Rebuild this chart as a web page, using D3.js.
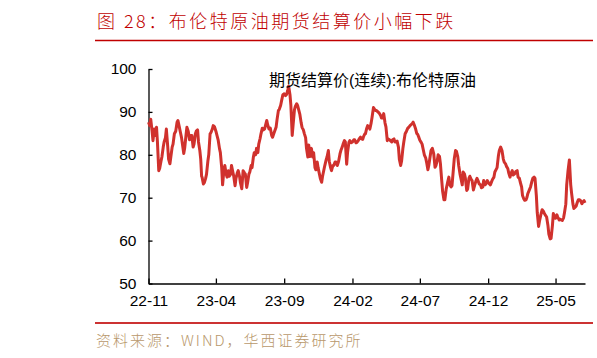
<!DOCTYPE html>
<html>
<head>
<meta charset="utf-8">
<script src="https://cdn.jsdelivr.net/npm/d3@7"></script>
<style>
  html, body { margin: 0; padding: 0; background: #fff; }
  svg { display: block; }
</style>
</head>
<body>
<svg id="chart" width="597" height="358"></svg>
<script>
const titleText = "图 28：布伦特原油期货结算价小幅下跌";
const sourceText = "资料来源：WIND，华西证券研究所";
const seriesName = "期货结算价(连续):布伦特原油";

const dates = [
  "2022-11-01","2022-11-04","2022-11-06","2022-11-09","2022-11-11","2022-11-14","2022-11-16","2022-11-19","2022-11-21","2022-11-24","2022-11-26","2022-11-29",
  "2022-12-01","2022-12-04","2022-12-06","2022-12-09","2022-12-11","2022-12-14","2022-12-16","2022-12-19","2022-12-21","2022-12-24","2022-12-26","2022-12-29",
  "2023-01-01","2023-01-04","2023-01-06","2023-01-09","2023-01-11","2023-01-14","2023-01-16","2023-01-19","2023-01-21","2023-01-24","2023-01-26","2023-01-29",
  "2023-02-01","2023-02-04","2023-02-06","2023-02-09","2023-02-11","2023-02-14","2023-02-16","2023-02-19","2023-02-21","2023-02-24","2023-02-26","2023-02-28",
  "2023-03-01","2023-03-04","2023-03-06","2023-03-09","2023-03-11","2023-03-14","2023-03-16","2023-03-19","2023-03-21","2023-03-24","2023-03-26","2023-03-29",
  "2023-04-01","2023-04-04","2023-04-06","2023-04-09","2023-04-11","2023-04-14","2023-04-16","2023-04-19","2023-04-21","2023-04-24","2023-04-26","2023-04-29",
  "2023-05-01","2023-05-04","2023-05-06","2023-05-09","2023-05-11","2023-05-14","2023-05-16","2023-05-19","2023-05-21","2023-05-24","2023-05-26","2023-05-29",
  "2023-06-01","2023-06-04","2023-06-06","2023-06-09","2023-06-11","2023-06-14","2023-06-16","2023-06-19","2023-06-21","2023-06-24","2023-06-26","2023-06-29",
  "2023-07-01","2023-07-04","2023-07-06","2023-07-09","2023-07-11","2023-07-14","2023-07-16","2023-07-19","2023-07-21","2023-07-24","2023-07-26","2023-07-29",
  "2023-08-01","2023-08-04","2023-08-06","2023-08-09","2023-08-11","2023-08-14","2023-08-16","2023-08-19","2023-08-21","2023-08-24","2023-08-26","2023-08-29",
  "2023-09-01","2023-09-04","2023-09-06","2023-09-09","2023-09-11","2023-09-14","2023-09-16","2023-09-19","2023-09-21","2023-09-24","2023-09-26","2023-09-29",
  "2023-10-01","2023-10-04","2023-10-06","2023-10-09","2023-10-11","2023-10-14","2023-10-16","2023-10-19","2023-10-21","2023-10-24","2023-10-26","2023-10-29",
  "2023-11-01","2023-11-04","2023-11-06","2023-11-09","2023-11-11","2023-11-14","2023-11-16","2023-11-19","2023-11-21","2023-11-24","2023-11-26","2023-11-29",
  "2023-12-01","2023-12-04","2023-12-06","2023-12-09","2023-12-11","2023-12-14","2023-12-16","2023-12-19","2023-12-21","2023-12-24","2023-12-26","2023-12-29",
  "2024-01-01","2024-01-04","2024-01-06","2024-01-09","2024-01-11","2024-01-14","2024-01-16","2024-01-19","2024-01-21","2024-01-24","2024-01-26","2024-01-29",
  "2024-02-01","2024-02-04","2024-02-06","2024-02-09","2024-02-11","2024-02-14","2024-02-16","2024-02-19","2024-02-21","2024-02-24","2024-02-26","2024-02-29",
  "2024-03-01","2024-03-04","2024-03-06","2024-03-09","2024-03-11","2024-03-14","2024-03-16","2024-03-19","2024-03-21","2024-03-24","2024-03-26","2024-03-29",
  "2024-04-01","2024-04-04","2024-04-06","2024-04-09","2024-04-11","2024-04-14","2024-04-16","2024-04-19","2024-04-21","2024-04-24","2024-04-26","2024-04-29",
  "2024-05-01","2024-05-04","2024-05-06","2024-05-09","2024-05-11","2024-05-14","2024-05-16","2024-05-19","2024-05-21","2024-05-24","2024-05-26","2024-05-29",
  "2024-06-01","2024-06-04","2024-06-06","2024-06-09","2024-06-11","2024-06-14","2024-06-16","2024-06-19","2024-06-21","2024-06-24","2024-06-26","2024-06-29",
  "2024-07-01","2024-07-04","2024-07-06","2024-07-09","2024-07-11","2024-07-14","2024-07-16","2024-07-19","2024-07-21","2024-07-24","2024-07-26","2024-07-29",
  "2024-08-01","2024-08-04","2024-08-06","2024-08-09","2024-08-11","2024-08-14","2024-08-16","2024-08-19","2024-08-21","2024-08-24","2024-08-26","2024-08-29",
  "2024-09-01","2024-09-04","2024-09-06","2024-09-09","2024-09-11","2024-09-14","2024-09-16","2024-09-19","2024-09-21","2024-09-24","2024-09-26","2024-09-29",
  "2024-10-01","2024-10-04","2024-10-06","2024-10-09","2024-10-11","2024-10-14","2024-10-16","2024-10-19","2024-10-21","2024-10-24","2024-10-26","2024-10-29",
  "2024-11-01","2024-11-04","2024-11-06","2024-11-09","2024-11-11","2024-11-14","2024-11-16","2024-11-19","2024-11-21","2024-11-24","2024-11-26","2024-11-29",
  "2024-12-01","2024-12-04","2024-12-06","2024-12-09","2024-12-11","2024-12-14","2024-12-16","2024-12-19","2024-12-21","2024-12-24","2024-12-26","2024-12-29",
  "2025-01-01","2025-01-04","2025-01-06","2025-01-09","2025-01-11","2025-01-14","2025-01-16","2025-01-19","2025-01-21","2025-01-24","2025-01-26","2025-01-29",
  "2025-02-01","2025-02-04","2025-02-06","2025-02-09","2025-02-11","2025-02-14","2025-02-16","2025-02-19","2025-02-21","2025-02-24","2025-02-26","2025-02-28",
  "2025-03-01","2025-03-04","2025-03-06","2025-03-09","2025-03-11","2025-03-14","2025-03-16","2025-03-19","2025-03-21","2025-03-24","2025-03-26","2025-03-29",
  "2025-04-01","2025-04-04","2025-04-06","2025-04-09","2025-04-11","2025-04-14","2025-04-16","2025-04-19","2025-04-21","2025-04-24","2025-04-26","2025-04-29",
  "2025-05-01","2025-05-04","2025-05-06","2025-05-09","2025-05-11","2025-05-14","2025-05-16","2025-05-19","2025-05-21","2025-05-24","2025-05-26","2025-05-29",
  "2025-06-01","2025-06-04","2025-06-06","2025-06-09","2025-06-11","2025-06-14","2025-06-16","2025-06-19","2025-06-21","2025-06-24","2025-06-26","2025-06-29",
  "2025-07-01","2025-07-04","2025-07-06"
];

const brent = [
  87.6, 86.8, 88.3, 85.5, 83.3, 86.0, 84.5, 86.4, 83.0, 76.3, 76.8, 78.5,
  79.5, 81.8, 83.0, 84.0, 86.0, 82.0, 79.0, 77.9, 79.5, 81.8, 82.5, 84.9,
  85.5, 87.6, 88.0, 86.5, 85.5, 84.0, 82.5, 80.3, 81.5, 84.5, 86.4, 85.5,
  83.5, 84.5, 84.5, 81.8, 82.5, 84.9, 85.5, 85.8, 83.0, 81.0, 79.0, 75.0,
  74.8, 73.2, 73.5, 74.5, 75.5, 78.5, 80.0, 84.9, 85.2, 86.0, 86.8, 86.5,
  85.5, 84.3, 83.5, 81.5, 80.5, 77.0, 73.0, 76.5, 77.5, 75.5, 74.8, 76.3,
  75.0, 75.5, 77.5, 76.0, 75.0, 72.8, 74.5, 75.8, 76.3, 75.0, 73.5, 72.1,
  76.3, 75.8, 75.5, 72.4, 73.5, 75.5, 76.0, 77.5, 77.0, 79.5, 80.5, 80.0,
  81.5, 80.5, 82.5, 83.8, 84.9, 86.2, 85.8, 86.0, 86.8, 88.0, 87.0, 86.0,
  86.2, 84.5, 84.1, 85.0, 85.6, 86.5, 88.2, 90.3, 90.6, 91.5, 92.5, 94.0,
  94.2, 93.8, 94.0, 95.0, 96.0, 94.0, 91.5, 84.5, 87.0, 90.5, 91.3, 91.9,
  91.5, 90.3, 89.5, 87.5, 86.4, 85.8, 85.0, 84.0, 81.5, 79.5, 82.3, 79.6,
  81.5, 79.5, 80.5, 77.0, 76.5, 78.3, 77.0, 75.5, 74.5, 73.6, 75.0, 76.5,
  77.5, 78.8, 79.5, 81.0, 78.5, 77.0, 76.3, 77.5, 77.5, 78.3, 78.3, 77.5,
  78.5, 80.2, 81.0, 81.8, 82.5, 83.3, 83.0, 77.8, 80.5, 82.9, 83.3, 82.8,
  83.0, 83.5, 83.5, 82.8, 82.9, 83.3, 83.7, 84.1, 83.7, 83.6, 84.3, 84.9,
  84.9, 86.2, 86.8, 86.4, 86.0, 87.5, 88.8, 91.0, 90.7, 90.3, 90.3, 90.0,
  89.7, 89.2, 88.6, 88.6, 89.6, 87.4, 86.5, 83.3, 83.7, 83.5, 83.3, 83.0,
  83.5, 83.7, 83.0, 83.0, 83.2, 81.8, 79.0, 77.5, 78.5, 81.5, 83.0, 84.9,
  85.5, 86.2, 86.4, 86.8, 87.0, 87.3, 87.6, 86.8, 86.2, 85.0, 84.8, 84.0,
  83.4, 82.9, 82.5, 81.0, 80.0, 79.3, 78.3, 76.5, 77.5, 79.6, 81.0, 81.5,
  80.3, 77.1, 77.5, 78.7, 80.0, 79.6, 78.0, 74.0, 71.5, 69.5, 69.5, 72.0,
  73.5, 74.8, 73.0, 72.5, 72.8, 76.5, 79.0, 81.0, 80.8, 79.5, 77.5, 75.5,
  74.5, 73.0, 76.0, 75.5, 74.5, 71.7, 72.0, 74.5, 75.0, 74.3, 74.0, 71.8,
  73.0, 74.0, 74.5, 73.8, 73.2, 73.0, 72.3, 72.5, 74.0, 73.0, 73.2, 74.0,
  73.6, 73.2, 73.0, 73.8, 74.3, 74.8, 76.0, 76.6, 77.0, 79.8, 81.0, 81.8,
  81.0, 79.0, 78.3, 77.9, 77.3, 76.8, 75.8, 74.8, 75.6, 76.3, 75.3, 75.5,
  76.1, 76.3, 74.8, 74.5, 73.6, 72.5, 70.5, 69.7, 69.4, 69.5, 70.1, 71.0,
  71.2, 72.0, 72.5, 73.8, 74.5, 74.8, 74.5, 70.5, 66.5, 63.3, 64.5, 66.0,
  67.2, 66.8, 66.3, 65.8, 65.5, 63.5, 61.5, 60.4, 60.5, 63.5, 66.3, 65.5,
  65.2, 66.0, 65.5, 64.8, 65.0, 64.8, 64.7, 65.3, 66.5, 68.5, 73.0, 76.3,
  78.8, 73.0, 71.0, 68.5, 67.5, 67.8, 68.0, 69.0, 69.5, 69.5, 69.3, 68.6,
  69.0, 69.3, 68.8
];

const yTicks = [50, 60, 70, 80, 90, 100];
const xTickDates = ["2022-11-01","2023-04-01","2023-09-01","2024-02-01","2024-07-01","2024-12-01","2025-05-01"];
const xTickLabels = ["22-11","23-04","23-09","24-02","24-07","24-12","25-05"];

const parse = d3.timeParse("%Y-%m-%d");
const data = dates.map((d, i) => ({ date: parse(d), value: brent[i] }));

const svg = d3.select("#chart");
const RED = "#c00000";
const LINE = "#d0312d";

// Title
svg.append("text")
  .attr("x", 97).attr("y", 28)
  .attr("font-family", "'Noto Sans CJK SC', sans-serif")
  .attr("font-size", 18)
  .attr("font-weight", 300)
  .attr("letter-spacing", 2.5)
  .attr("fill", RED)
  .text(titleText);

svg.append("line")
  .attr("x1", 95).attr("x2", 593).attr("y1", 40.5).attr("y2", 40.5)
  .attr("stroke", RED).attr("stroke-width", 1.5);

// Scales
const x = d3.scaleTime()
  .domain([parse("2022-11-01"), parse("2025-07-06")])
  .range([148.5, 585]);
const y = d3.scaleLinear().domain([50, 100]).range([283.5, 69]);

const fontAxis = "'Liberation Sans', Arial, sans-serif";

const gy = svg.append("g")
  .attr("transform", "translate(148.5,0)")
  .call(d3.axisLeft(y).tickValues(yTicks).tickSizeInner(-4).tickSizeOuter(0).tickPadding(12));
gy.selectAll("text").attr("font-family", fontAxis).attr("font-size", 15.5).attr("fill", "#000");

const gx = svg.append("g")
  .attr("transform", "translate(0,283.5)")
  .call(d3.axisBottom(x).tickValues(xTickDates.map(parse)).tickSizeInner(-5).tickSizeOuter(0).tickPadding(11.5)
    .tickFormat((d, i) => xTickLabels[i]));
gx.selectAll("text").attr("font-family", fontAxis).attr("font-size", 15.5).attr("fill", "#000");

svg.selectAll(".domain, .tick line").attr("stroke", "#000").attr("stroke-width", 1.3);

// Line
const line = d3.line().x(d => x(d.date)).y(d => y(d.value));
svg.append("path")
  .datum(data)
  .attr("d", line)
  .attr("fill", "none")
  .attr("stroke", LINE)
  .attr("stroke-width", 3)
  .attr("stroke-linejoin", "round");

// Legend label
svg.append("text")
  .attr("x", 269).attr("y", 86)
  .attr("font-family", "'Liberation Sans', 'Noto Sans CJK SC', sans-serif")
  .attr("font-size", 16)
  .attr("fill", "#000")
  .text(seriesName);

// Bottom rule + source
svg.append("line")
  .attr("x1", 95).attr("x2", 593).attr("y1", 323).attr("y2", 323)
  .attr("stroke", "#cc3333").attr("stroke-width", 2);

svg.append("text")
  .attr("x", 96).attr("y", 346)
  .attr("font-family", "'Noto Sans CJK SC', sans-serif")
  .attr("font-size", 15)
  .attr("font-weight", 300)
  .attr("letter-spacing", 2)
  .attr("fill", "#b8976b")
  .text(sourceText);
</script>
</body>
</html>
